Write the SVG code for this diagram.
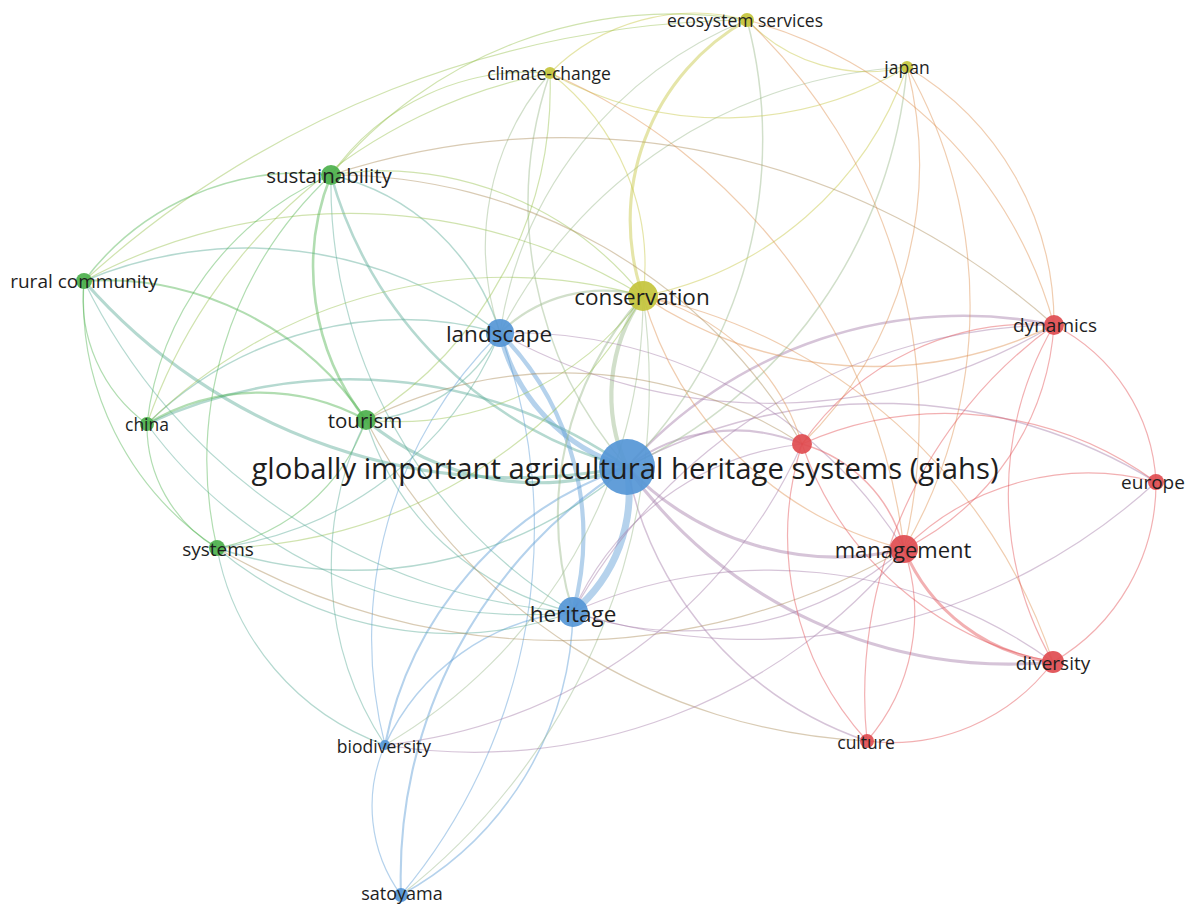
<svg xmlns="http://www.w3.org/2000/svg" width="1190" height="905" viewBox="0 0 1190 905">
<style>
  .e{fill:none;stroke-width:1.2;stroke-opacity:.45;stroke-linecap:round}
  .bb{stroke:#5b9bd5}.bg{stroke:#5aab96}.by{stroke:#98b88a}.br{stroke:#a37ca8}
  .gg{stroke:#52b452}.gy{stroke:#96c24e}.gr{stroke:#ab8c58}.yy{stroke:#c6c640}
  .yr{stroke:#de9150}.rr{stroke:#e25055}
  .w15{stroke-width:1.5}.w2{stroke-width:2.1}.w25{stroke-width:2.6}.w3{stroke-width:3.1}
  .w4{stroke-width:4.2}.w5{stroke-width:5.2}.w7{stroke-width:7}
  .n{fill-opacity:.92}
  .blue{fill:#5596d6}.green{fill:#4cb04c}.yellow{fill:#c4c43c}.red{fill:#e04c50}
  text{font-family:"Open Sans","Noto Sans","Liberation Sans",sans-serif;fill:#1e1e1e;text-anchor:middle;dominant-baseline:central}
</style>
<rect width="1190" height="905" fill="#ffffff"/>
<g id="links">
  <!-- hub: globally important agricultural heritage systems -->
  <path class="e bb w5" d="M500 333 A185 185 0 0 0 627 467"/>
  <path class="e bb w7" d="M573 612 A155 155 0 0 0 627 467"/>
  <path class="e by w4" d="M627 467 A172 172 0 0 1 643 296"/>
  <path class="e br w3" d="M627 467 A289 289 0 0 0 904 549"/>
  <path class="e br w3" d="M627 467 A468 468 0 0 0 1053 662"/>
  <path class="e br w25" d="M627 467 A450 450 0 0 1 1054 325"/>
  <path class="e br w2" d="M627 467 A176 176 0 0 1 802 444"/>
  <path class="e br w15" d="M627 467 A529 529 0 0 1 1156 482"/>
  <path class="e br w15" d="M627 467 A364 364 0 0 0 867 741"/>
  <path class="e bb w2" d="M385 745 A369 369 0 0 1 627 467"/>
  <path class="e bb w2" d="M401 895 A484 484 0 0 1 627 467"/>
  <path class="e bg w25" d="M331 175 A416 416 0 0 0 627 467"/>
  <path class="e bg w3" d="M366 420 A265 265 0 0 0 627 467"/>
  <path class="e bg w3" d="M84 281 A574 574 0 0 0 627 467"/>
  <path class="e bg w25" d="M147 424 A482 482 0 0 1 627 467"/>
  <path class="e bg w15" d="M217 548 A418 418 0 0 0 627 467"/>
  <path class="e by w15" d="M550 73 A401 401 0 0 0 627 467"/>
  <path class="e by w15" d="M627 467 A463 463 0 0 0 747 20"/>
  <path class="e by w15" d="M627 467 A488 488 0 0 0 907 67"/>
  <!-- landscape -->
  <path class="e bb w4" d="M500 333 A288 288 0 0 1 573 612"/>
  <path class="e by w2" d="M500 333 A148 148 0 0 1 643 296"/>
  <path class="e bg w15" d="M331 175 A231 231 0 0 1 500 333"/>
  <path class="e bg w15" d="M84 281 A419 419 0 0 1 500 333"/>
  <path class="e bg w15" d="M147 424 A365 365 0 0 1 500 333"/>
  <path class="e bg w15" d="M366 420 A160 160 0 0 0 500 333"/>
  <path class="e bg" d="M217 548 A355 355 0 0 0 500 333"/>
  <path class="e bb" d="M385 745 A428 428 0 0 1 500 333"/>
  <path class="e bb" d="M401 895 A571 571 0 0 0 500 333"/>
  <path class="e by" d="M500 333 A265 265 0 0 1 550 73"/>
  <path class="e by" d="M500 333 A399 399 0 0 1 747 20"/>
  <path class="e br" d="M500 333 A554 554 0 0 0 1054 325"/>
  <path class="e br" d="M500 333 A458 458 0 0 1 904 549"/>
  <path class="e by" d="M500 333 A486 486 0 0 1 907 67"/>
  <!-- heritage -->
  <path class="e by w2" d="M573 612 A324 324 0 0 1 643 296"/>
  <path class="e bb w15" d="M385 745 A230 230 0 0 1 573 612"/>
  <path class="e bb w15" d="M401 895 A331 331 0 0 0 573 612"/>
  <path class="e br" d="M573 612 A337 337 0 0 0 904 549"/>
  <path class="e br" d="M573 612 A483 483 0 0 1 1053 662"/>
  <path class="e br" d="M573 612 A597 597 0 0 0 1156 482"/>
  <path class="e bg" d="M217 548 A362 362 0 0 0 573 612"/>
  <path class="e bg" d="M366 420 A282 282 0 0 0 573 612"/>
  <path class="e bg" d="M331 175 A500 500 0 0 0 573 612"/>
  <path class="e bg" d="M147 424 A466 466 0 0 0 573 612"/>
  <path class="e br" d="M573 612 A560 560 0 0 1 1054 325"/>
  <path class="e br" d="M573 612 A284 284 0 0 1 802 444"/>
  <!-- conservation -->
  <path class="e yy w3" d="M643 296 A230 230 0 0 1 747 20"/>
  <path class="e yy" d="M550 73 A242 242 0 0 1 643 296"/>
  <path class="e yy" d="M643 296 A349 349 0 0 0 907 67"/>
  <path class="e yr w15" d="M643 296 A412 412 0 0 0 1054 325"/>
  <path class="e yr" d="M643 296 A217 217 0 0 1 802 444"/>
  <path class="e yr" d="M643 296 A363 363 0 0 0 904 549"/>
  <path class="e gy" d="M366 420 A303 303 0 0 0 643 296"/>
  <path class="e gy" d="M331 175 A335 335 0 0 1 643 296"/>
  <path class="e gy" d="M84 281 A559 559 0 0 1 643 296"/>
  <path class="e gy" d="M147 424 A512 512 0 0 1 643 296"/>
  <path class="e gy" d="M217 548 A495 495 0 0 0 643 296"/>
  <path class="e by" d="M385 745 A518 518 0 0 0 643 296"/>
  <path class="e by" d="M401 895 A646 646 0 0 0 643 296"/>
  <path class="e yr" d="M643 296 A550 550 0 0 1 1053 662"/>
  <!-- climate-change, ecosystem services, japan -->
  <path class="e yy" d="M550 73 A204 204 0 0 1 747 20"/>
  <path class="e yy" d="M550 73 A357 357 0 0 0 907 67"/>
  <path class="e gy" d="M331 175 A242 242 0 0 1 550 73"/>
  <path class="e gy" d="M366 420 A393 393 0 0 0 550 73"/>
  <path class="e yr" d="M550 73 A593 593 0 0 1 904 549"/>
  <path class="e gy" d="M147 424 A534 534 0 0 1 550 73"/>
  <path class="e gy" d="M84 281 A1000 1000 0 0 1 747 20"/>
  <path class="e yy" d="M747 20 A167 167 0 0 0 907 67"/>
  <path class="e gy" d="M331 175 A444 444 0 0 1 747 20"/>
  <path class="e yr" d="M747 20 A552 552 0 0 1 904 549"/>
  <path class="e yr" d="M747 20 A433 433 0 0 1 1054 325"/>
  <path class="e yr" d="M802 444 A391 391 0 0 0 907 67"/>
  <path class="e yr" d="M907 67 A297 297 0 0 1 1054 325"/>
  <path class="e yr" d="M904 549 A482 482 0 0 0 907 67"/>
  <!-- green cluster -->
  <path class="e gg w15" d="M84 281 A269 269 0 0 1 331 175"/>
  <path class="e gg" d="M147 424 A310 310 0 0 1 331 175"/>
  <path class="e gg w25" d="M331 175 A247 247 0 0 0 366 420"/>
  <path class="e gg" d="M217 548 A390 390 0 0 1 331 175"/>
  <path class="e gr" d="M331 175 A738 738 0 0 1 1054 325"/>
  <path class="e gr" d="M331 175 A542 542 0 0 1 802 444"/>
  <path class="e gg" d="M84 281 A156 156 0 0 0 147 424"/>
  <path class="e gg" d="M84 281 A298 298 0 0 0 217 548"/>
  <path class="e gg w2" d="M84 281 A314 314 0 0 1 366 420"/>
  <path class="e bg" d="M84 281 A590 590 0 0 0 573 612"/>
  <path class="e gg w2" d="M147 424 A219 219 0 0 1 366 420"/>
  <path class="e gg" d="M147 424 A142 142 0 0 0 217 548"/>
  <path class="e gg" d="M217 548 A196 196 0 0 0 366 420"/>
  <path class="e gr" d="M366 420 A595 595 0 0 0 867 741"/>
  <path class="e bg" d="M366 420 A325 325 0 0 0 385 745"/>
  <path class="e gr" d="M366 420 A437 437 0 0 1 802 444"/>
  <path class="e bg" d="M217 548 A259 259 0 0 0 385 745"/>
  <path class="e gr" d="M217 548 A687 687 0 0 0 904 549"/>
  <!-- biodiversity, satoyama -->
  <path class="e bb" d="M385 745 A151 151 0 0 0 401 895"/>
  <path class="e br" d="M385 745 A514 514 0 0 0 802 444"/>
  <path class="e br" d="M385 745 A555 555 0 0 0 904 549"/>
  <!-- red cluster -->
  <path class="e rr" d="M904 549 A270 270 0 0 0 1054 325"/>
  <path class="e rr" d="M1054 325 A337 337 0 0 0 1053 662"/>
  <path class="e rr" d="M1054 325 A187 187 0 0 1 1156 482"/>
  <path class="e rr" d="M802 444 A279 279 0 0 1 1054 325"/>
  <path class="e rr" d="M867 741 A456 456 0 0 1 1054 325"/>
  <path class="e rr w15" d="M802 444 A146 146 0 0 1 904 549"/>
  <path class="e rr" d="M802 444 A332 332 0 0 0 1053 662"/>
  <path class="e rr" d="M802 444 A356 356 0 0 1 1156 482"/>
  <path class="e rr" d="M802 444 A304 304 0 0 0 867 741"/>
  <path class="e rr" d="M904 549 A261 261 0 0 1 1156 482"/>
  <path class="e rr" d="M1053 662 A207 207 0 0 0 1156 482"/>
  <path class="e rr w3" d="M904 549 A187 187 0 0 0 1053 662"/>
  <path class="e rr" d="M867 741 A196 196 0 0 0 904 549"/>
  <path class="e rr" d="M867 741 A202 202 0 0 0 1053 662"/>
</g>
<g id="node-giahs"><circle class="n blue" cx="627" cy="467" r="28"/></g>
<g id="node-landscape"><circle class="n blue" cx="500" cy="333" r="14"/></g>
<g id="node-heritage"><circle class="n blue" cx="573" cy="612" r="15"/></g>
<g id="node-biodiversity"><circle class="n blue" cx="385" cy="745" r="5"/></g>
<g id="node-satoyama"><circle class="n blue" cx="401" cy="895" r="7"/></g>
<g id="node-conservation"><circle class="n yellow" cx="643" cy="296" r="15"/></g>
<g id="node-climate-change"><circle class="n yellow" cx="550" cy="73" r="6"/></g>
<g id="node-ecosystem-services"><circle class="n yellow" cx="747" cy="20" r="7"/></g>
<g id="node-japan"><circle class="n yellow" cx="907" cy="67" r="6"/></g>
<g id="node-sustainability"><circle class="n green" cx="331" cy="175" r="10"/></g>
<g id="node-rural-community"><circle class="n green" cx="84" cy="281" r="8"/></g>
<g id="node-china"><circle class="n green" cx="147" cy="424" r="7"/></g>
<g id="node-tourism"><circle class="n green" cx="366" cy="420" r="10"/></g>
<g id="node-systems"><circle class="n green" cx="217" cy="548" r="8"/></g>
<g id="node-dynamics"><circle class="n red" cx="1054" cy="325" r="10"/></g>
<g id="node-unlabelled"><circle class="n red" cx="802" cy="444" r="10"/></g>
<g id="node-europe"><circle class="n red" cx="1156" cy="482" r="8"/></g>
<g id="node-management"><circle class="n red" cx="904" cy="549" r="14"/></g>
<g id="node-diversity"><circle class="n red" cx="1053" cy="662" r="11"/></g>
<g id="node-culture"><circle class="n red" cx="867" cy="741" r="7"/></g>
<g id="labels">
  <text x="625" y="468" font-size="29.3">globally important agricultural heritage systems (giahs)</text>
  <text x="642" y="296" font-size="22.5">conservation</text>
  <text x="499" y="333" font-size="22.5">landscape</text>
  <text x="573" y="613" font-size="22.5">heritage</text>
  <text x="903" y="549" font-size="22">management</text>
  <text x="329" y="175" font-size="20.5">sustainability</text>
  <text x="365" y="420" font-size="20.5">tourism</text>
  <text x="84" y="281" font-size="19">rural community</text>
  <text x="147" y="424" font-size="17.5">china</text>
  <text x="218" y="549" font-size="19">systems</text>
  <text x="384" y="746" font-size="17.5">biodiversity</text>
  <text x="402" y="893" font-size="18">satoyama</text>
  <text x="549" y="73" font-size="17.5">climate-change</text>
  <text x="745" y="20" font-size="17.5">ecosystem services</text>
  <text x="907" y="67" font-size="17.5">japan</text>
  <text x="1055" y="325" font-size="19">dynamics</text>
  <text x="1153" y="482" font-size="19">europe</text>
  <text x="1053" y="663" font-size="19">diversity</text>
  <text x="866" y="742" font-size="17.5">culture</text>
</g>
</svg>
